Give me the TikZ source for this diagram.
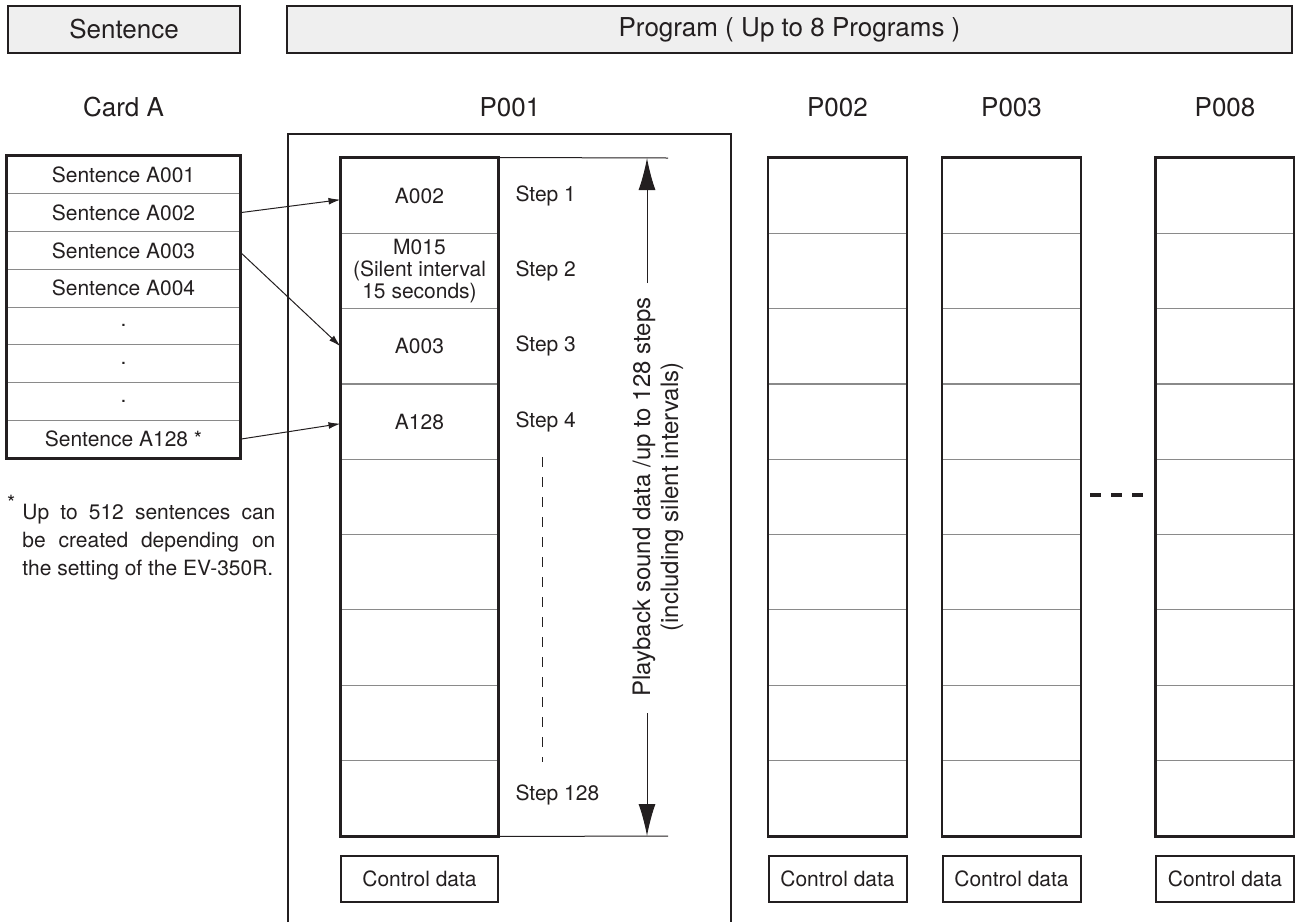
\documentclass[tikz,border=0pt]{standalone}
\usepackage{fontspec}
\setmainfont{TeX Gyre Heros}
\usepackage{tikz}
\usetikzlibrary{positioning,arrows.meta}
\definecolor{ink}{HTML}{231F20}
\definecolor{hdrfill}{HTML}{EFEFEF}
\definecolor{divider}{HTML}{8A8A8A}

\tikzset{
  txt/.style={font=\fontsize{10.5}{12.6}\selectfont, text=ink},
  title/.style={font=\fontsize{13}{15}\selectfont, text=ink},
  hdrbox/.style={title, draw=ink, line width=0.8pt, fill=hdrfill, inner sep=0pt, minimum height=23.5pt},
  cell/.style={txt, draw=divider, line width=0.5pt, inner sep=0pt},
  outline/.style={draw=ink, line width=1.1pt},
  ctrlbox/.style={txt, draw=ink, line width=1pt, inner sep=0pt, minimum height=23pt},
  link/.style={draw=ink, line width=0.5pt, -{Latex[length=6pt,width=3.4pt]}},
  span/.style={draw=ink, line width=0.5pt, -{Latex[length=16pt,width=8.5pt]}},
}

\begin{document}
\begin{tikzpicture}[x=0.5pt, y=-0.5pt]
    \useasboundingbox (0,0) rectangle (1295,922);
    % headers
    \node[hdrbox, minimum width=116pt] (hsent) at (124,29.5) {Sentence};
    \node[hdrbox, minimum width=502.5pt] (hprog) at (789.5,29.5) {Program ( Up to 8 Programs )};
    % card A
    \node[title] (tcard) at (123.5,107) {Card A};
    \foreach \t [count=\i] in {Sentence A001, Sentence A002, Sentence A003, Sentence A004, ., ., ., Sentence A128 *}
        \node[cell, minimum width=116.5pt, minimum height=18.875pt] (c\i) at (123.5, {156+37.75*(\i-0.5)}) {\t};
    \draw[outline] (c1.north west) rectangle (c8.south east);
    \node[txt, anchor=north west] (star) at (0,488) {*};
    \node[txt, font=\fontsize{10.5}{14}\selectfont, align=left, inner sep=0pt, anchor=west] (note) at (22,542)
        {\makebox[126.5pt][s]{Up to 512 sentences can}\\
         \makebox[126.5pt][s]{be created depending on}\\
         the setting of the EV-350R.};
    % program P001
    \draw[draw=ink, line width=0.8pt] (288,922) -- (288,134) -- (731,134) -- (731,922);
    \node[title] (t1) at (510,107) {P001};
    \foreach \i in {1,...,9}
        \node[cell, minimum width=78.5pt, minimum height=37.67pt] (s\i) at (419.5, {158+75.33*(\i-0.5)}) {};
    \draw[outline] (s1.north west) rectangle (s9.south east);
    \node[txt] at (s1) {A002};
    \node[txt, font=\fontsize{10.5}{10.8}\selectfont, align=center] at (s2) {M015\\(Silent interval\\15 seconds)};
    \node[txt] at (s3) {A003};
    \node[txt] at (s4) {A128};
    \node[txt, right=5pt of s1.east] (st1) {Step 1};
    \node[txt, right=5pt of s2.east] (st2) {Step 2};
    \node[txt, right=5pt of s3.east] (st3) {Step 3};
    \node[txt, right=5pt of s4.east] (st4) {Step 4};
    \node[txt, right=5pt of s9.east, yshift=1.5pt] (st128) {Step 128};
    \node[ctrlbox, minimum width=78.5pt] (ctl1) at (419.5,879) {Control data};
    \draw[ink, line width=0.5pt, dash pattern=on 5pt off 5pt] (542,457) -- (542,762);
    % span of the steps
    \coordinate (ttop) at (668,158);
    \coordinate (tbot) at (668,836);
    \coordinate (upfrom) at (647,283);
    \coordinate (uptip) at (647,158);
    \coordinate (dnfrom) at (647,713);
    \coordinate (dntip) at (647,836);
    \draw[ink, line width=0.5pt] (s1.north east) -- (ttop);
    \draw[ink, line width=0.5pt] (s9.south east) -- (tbot);
    \draw[span] (upfrom) -- (uptip);
    \draw[span] (dnfrom) -- (dntip);
    \node[txt, font=\fontsize{12}{14}\selectfont, rotate=90, align=center] (spanlbl) at (658,497)
        {Playback sound data /up to 128 steps\\(including silent intervals)};
    % sentences into steps
    \draw[link] (c2.east) -- ([yshift=-2pt]s1.west);
    \draw[link] ([yshift=-1pt]c3.east) -- (s3.west);
    \draw[link] (c8.east) -- ([yshift=-1pt]s4.west);
    % programs P002, P003, P008
    \foreach \n/\x in {2/837.5, 3/1011.5, 8/1225} {
        \node[title] (t\n) at (\x,107) {P00\n};
        \foreach \i in {1,...,9}
            \node[cell, minimum width=69pt, minimum height=37.67pt] (p\n-\i) at (\x, {158+75.33*(\i-0.5)}) {};
        \draw[outline] (p\n-1.north west) rectangle (p\n-9.south east);
        \node[ctrlbox, minimum width=69pt] (ctl\n) at (\x,879) {Control data};
    }
    \draw[ink, line width=2.2pt, dash pattern=on 5.5pt off 5pt] (1090,495) -- (1143,495);
\end{tikzpicture}
\end{document}
